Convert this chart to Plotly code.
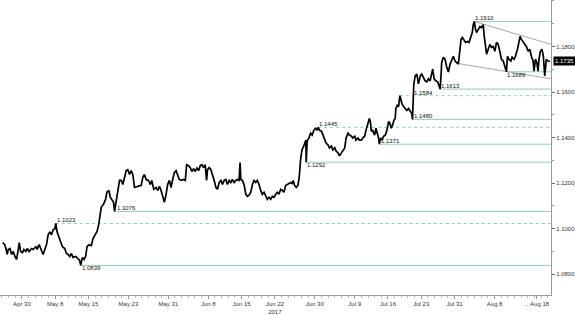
import plotly.graph_objects as go

# trading-day position (0 = start of Apr 30/May 1 session) and EUR/USD price
t = [-2.89,-2.59,-2.40,-2.20,-2.05,-1.80,-1.54,-1.30,-1.05,-0.79,-0.55,-0.40,-0.19,0.10,0.30,0.60,0.79,1.09,1.45,1.69,
     2.10,2.29,2.59,2.95,3.19,3.44,3.70,3.94,4.19,4.45,4.69,4.94,5.09,5.28,5.58,5.79,6.09,6.44,6.69,6.93,
     7.19,7.44,7.68,8.08,8.43,8.68,8.83,9.09,9.33,9.58,9.78,10.07,10.43,10.67,11.08,11.27,11.53,11.78,11.93,12.28,
     12.57,12.77,13.07,13.28,13.58,13.77,13.92,14.07,14.42,14.67,14.93,15.16,15.42,15.67,15.91,16.17,16.42,16.66,16.92,17.41,
     17.92,18.16,18.41,18.67,19.01,19.31,19.51,19.81,20.16,20.40,20.66,20.91,21.15,21.41,21.66,21.90,22.16,22.41,22.65,22.90,
     23.16,23.40,23.65,23.91,24.30,24.55,24.75,25.04,25.30,25.55,25.79,26.05,26.30,26.54,26.80,27.05,27.29,27.54,27.74,27.89,
     28.14,28.40,28.64,28.89,29.15,29.39,29.64,29.90,30.13,30.39,30.64,30.88,31.14,31.39,31.63,31.89,32.14,32.38,32.63,32.78,
     32.89,33.13,33.38,33.64,33.88,34.13,34.39,34.63,34.88,35.13,35.37,35.63,35.88,36.12,36.38,36.63,36.87,37.13,37.38,37.62,
     37.87,38.13,38.37,38.62,38.88,39.12,39.37,39.63,39.87,40.12,40.37,40.61,40.76,40.97,41.21,41.47,41.66,41.87,42.07,42.29,
     42.51,42.66,42.71,42.86,43.11,43.37,43.61,43.86,44.12,44.36,44.51,44.72,45.01,45.21,45.51,45.70,46.00,46.21,46.51,46.71,
     47.01,47.20,47.50,47.71,48.01,48.20,48.50,48.70,49.00,49.21,49.51,49.70,50.00,50.19,50.49,50.70,51.00,51.20,51.50,51.69,
     51.99,52.20,52.35,52.50,52.69,52.99,53.19,53.40,53.59,53.70,53.89,54.09,54.34,54.60,54.84,55.09,55.28,55.49,55.69,55.88,
     56.09,56.18,56.39,56.59,56.78,56.99,57.08,57.34,57.59,57.83,58.08,58.34,58.58,58.68,58.79,58.88,59.09,59.33,59.58,59.84,
     60.07,60.33,60.58,60.82,61.08,61.33,61.57,61.72,61.93,62.17,62.47,62.68,62.83,62.98,63.07,63.32,63.57,63.82,64.07,64.33,
     64.57,64.82,65.07,65.31,65.57,65.82,65.97,66.17,66.47,66.66,66.96,67.17,67.47,67.66,67.81,67.96,68.16,68.31,68.56,68.82,
     69.06,69.31,69.46,69.66,69.81,70.06,70.31,70.55,70.81,71.06,71.30,71.56,71.81,72.05,72.31,72.56,72.80,72.95,73.16,73.46,
     73.65,73.95,74.15,74.45,74.66,74.85,75.04,75.30,75.55,75.79,76.05,76.30,76.54,76.80,76.95,77.14,77.35,77.54,77.69,77.89,
     78.14,78.34,78.55,78.79,79.04,79.34]
price = [1.0939,1.0930,1.0913,1.0887,1.0909,1.0913,1.0887,1.0900,1.0878,1.0865,1.0909,1.0939,1.0900,1.0895,1.0909,1.0900,1.0913,1.0900,1.0913,1.0909,
     1.0921,1.0909,1.0930,1.0900,1.0887,1.0909,1.0930,1.0973,1.0986,1.0973,1.0995,1.0999,1.1023,1.0986,1.0965,1.0943,1.0921,1.0913,1.0891,1.0887,
     1.0878,1.0891,1.0874,1.0878,1.0865,1.0861,1.0839,1.0874,1.0865,1.0878,1.0921,1.0930,1.0926,1.0956,1.0978,1.0986,1.1017,1.1064,1.1095,1.1108,
     1.1129,1.1160,1.1168,1.1138,1.1125,1.1116,1.1076,1.1108,1.1160,1.1212,1.1212,1.1194,1.1225,1.1255,1.1259,1.1238,1.1255,1.1238,1.1181,1.1186,
     1.1190,1.1225,1.1238,1.1216,1.1212,1.1194,1.1212,1.1173,1.1181,1.1168,1.1186,1.1168,1.1147,1.1116,1.1151,1.1194,1.1212,1.1181,1.1216,1.1246,
     1.1255,1.1233,1.1216,1.1212,1.1216,1.1212,1.1281,1.1277,1.1268,1.1251,1.1264,1.1251,1.1268,1.1255,1.1277,1.1281,1.1268,1.1281,1.1212,1.1259,
     1.1268,1.1259,1.1238,1.1212,1.1181,1.1173,1.1203,1.1212,1.1194,1.1212,1.1216,1.1194,1.1212,1.1203,1.1216,1.1203,1.1212,1.1216,1.1212,1.1290,
     1.1216,1.1212,1.1194,1.1151,1.1142,1.1147,1.1160,1.1194,1.1212,1.1203,1.1212,1.1194,1.1168,1.1151,1.1160,1.1147,1.1129,1.1138,1.1129,1.1142,
     1.1138,1.1151,1.1160,1.1151,1.1173,1.1168,1.1160,1.1190,1.1194,1.1199,1.1203,1.1199,1.1212,1.1190,1.1181,1.1190,1.1225,1.1303,1.1346,1.1359,
     1.1376,1.1389,1.1292,1.1385,1.1398,1.1419,1.1411,1.1432,1.1441,1.1432,1.1445,1.1432,1.1428,1.1411,1.1389,1.1376,1.1367,1.1355,1.1363,1.1346,
     1.1355,1.1341,1.1333,1.1320,1.1333,1.1341,1.1355,1.1398,1.1419,1.1411,1.1406,1.1398,1.1406,1.1389,1.1398,1.1389,1.1389,1.1398,1.1406,1.1432,
     1.1471,1.1484,1.1471,1.1428,1.1432,1.1411,1.1441,1.1419,1.1398,1.1371,1.1398,1.1389,1.1406,1.1411,1.1432,1.1471,1.1463,1.1441,1.1454,1.1476,
     1.1484,1.1528,1.1541,1.1536,1.1584,1.1562,1.1549,1.1536,1.1528,1.1519,1.1528,1.1515,1.1506,1.1480,1.1580,1.1636,1.1671,1.1679,1.1636,1.1671,
     1.1679,1.1666,1.1649,1.1645,1.1658,1.1649,1.1688,1.1701,1.1658,1.1649,1.1645,1.1627,1.1613,1.1679,1.1731,1.1753,1.1744,1.1710,1.1688,1.1723,
     1.1744,1.1757,1.1736,1.1731,1.1723,1.1788,1.1831,1.1839,1.1822,1.1818,1.1822,1.1818,1.1844,1.1861,1.1896,1.1910,1.1874,1.1861,1.1874,1.1887,
     1.1883,1.1896,1.1844,1.1800,1.1766,1.1788,1.1809,1.1796,1.1800,1.1779,1.1818,1.1809,1.1766,1.1744,1.1736,1.1714,1.1689,1.1757,1.1744,1.1736,
     1.1753,1.1744,1.1757,1.1788,1.1822,1.1844,1.1831,1.1818,1.1809,1.1800,1.1779,1.1788,1.1757,1.1736,1.1692,1.1744,1.1731,1.1692,1.1744,1.1779,
     1.1788,1.1757,1.1671,1.1744,1.1736,1.1735]

last_price = 1.1735

# support / resistance levels
level_values = [1.1910, 1.1689, 1.1613, 1.1584, 1.1480, 1.1445, 1.1371, 1.1292, 1.1076, 1.1023, 1.0839]
level_start  = [67.96, 72.80, 62.83, 56.78, 58.68, 44.51, 53.70, 42.71, 13.92, 5.09, 8.83]
level_dashed = [False, False, False, True, False, True, False, False, False, True, False]
level_label_t = [67.96, 72.80, 62.83, 58.75, 58.75, 44.51, 53.85, 42.71, 14.10, 5.09, 8.83]
level_label_side = ["above", "below", "above", "above", "above", "above", "above", "below", "above", "above", "below"]

# trend channel
upper_trend_t = [67.96, 79.49]
upper_trend_p = [1.1910, 1.1809]
lower_trend_t = [65.57, 79.49]
lower_trend_p = [1.1725, 1.1658]

# axis ticks
x_tick_pos = [0, 5, 10, 16, 22, 28, 33, 38, 44, 50, 55, 60, 65, 71, 77.3]
x_tick_text = ["Apr 30", "May 8", "May 15", "May 23", "May 31", "Jun 8", "Jun 15", "Jun 22<br>2017",
               "Jun 30", "Jul 9", "Jul 16", "Jul 23", "Jul 31", "Aug 8", "... Aug 18"]
y_tick_vals = [1.08, 1.10, 1.12, 1.14, 1.16, 1.18]

X_RANGE = [-3.29, 79.49]
Y_RANGE = [1.0709, 1.2004]

LEVEL_COLOR = "#86d3b2"
TREND_COLOR = "#a6a6a6"
FONT = "Liberation Sans"

fig = go.Figure()

shapes = []
annotations = []
for v, s, d, lt, side in zip(level_values, level_start, level_dashed, level_label_t, level_label_side):
    shapes.append(dict(type="line", xref="x", yref="y", x0=s, x1=X_RANGE[1], y0=v, y1=v,
                       line=dict(color=LEVEL_COLOR, width=1, dash="3px,3px" if d else "solid"), layer="below"))
    annotations.append(dict(x=lt, y=v, xref="x", yref="y", text=f"{v:.4f}", showarrow=False,
                            xanchor="left", yanchor="bottom" if side == "above" else "top",
                            yshift=-2 if side == "above" else 2, xshift=-1,
                            font=dict(family=FONT, size=6, color="#111")))

shapes.append(dict(type="line", xref="x", yref="y", x0=upper_trend_t[0], x1=upper_trend_t[1],
                   y0=upper_trend_p[0], y1=upper_trend_p[1], line=dict(color=TREND_COLOR, width=1), layer="below"))
shapes.append(dict(type="line", xref="x", yref="y", x0=lower_trend_t[0], x1=lower_trend_t[1],
                   y0=lower_trend_p[0], y1=lower_trend_p[1], line=dict(color=TREND_COLOR, width=1), layer="below"))

fig.add_trace(go.Scatter(x=t, y=price, mode="lines", line=dict(color="#000000", width=1.7),
                         hoverinfo="skip", showlegend=False))

annotations.append(dict(x=1, y=last_price, xref="paper", yref="y", text=f"{last_price:.4f}", showarrow=False,
                        xanchor="left", yanchor="middle", xshift=2, bgcolor="#000000", borderpad=1,
                        font=dict(family=FONT, size=6, color="#ffffff")))

fig.update_layout(
    width=575, height=315,
    margin=dict(l=0, r=22, t=0, b=16),
    paper_bgcolor="white", plot_bgcolor="white",
    shapes=shapes, annotations=annotations,
    font=dict(family=FONT, size=6, color="#333"),
    showlegend=False,
)
fig.update_xaxes(range=X_RANGE, tickmode="array", tickvals=x_tick_pos, ticktext=x_tick_text,
                 showgrid=False, zeroline=False, showline=True, linecolor="#999", linewidth=1,
                 ticks="outside", ticklen=3, tickcolor="#999", tickfont=dict(family=FONT, size=6, color="#333"),
                 minor=dict(tickmode="linear", tick0=0, dtick=1, ticks="outside", ticklen=2, tickcolor="#bbb"))
fig.update_yaxes(range=Y_RANGE, side="right", tickmode="array", tickvals=y_tick_vals,
                 ticktext=[f"{v:.4f}" for v in y_tick_vals],
                 showgrid=False, zeroline=False, showline=True, linecolor="#999", linewidth=1,
                 ticks="outside", ticklen=3, tickcolor="#666", tickfont=dict(family=FONT, size=6, color="#333"),
                 minor=dict(tickmode="linear", tick0=1.07, dtick=0.01, ticks="outside", ticklen=2, tickcolor="#999"))

fig.write_html("out.html")
